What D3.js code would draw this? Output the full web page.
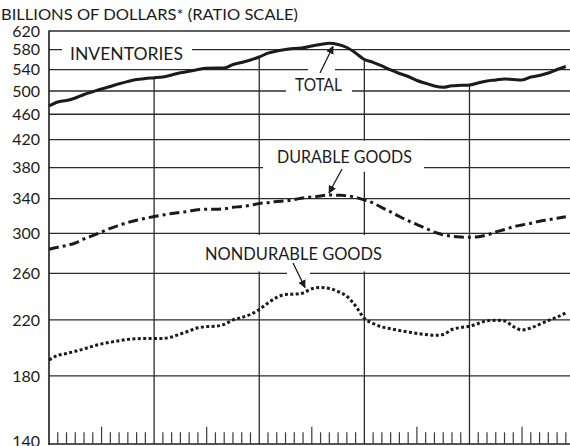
<!DOCTYPE html>
<html><head><meta charset="utf-8">
<script src="https://cdn.jsdelivr.net/npm/d3@7"></script>
<style>html,body{margin:0;padding:0;background:#fff;overflow:hidden}</style>
</head><body><svg id="c" width="570" height="446"></svg>
<script>
// ---- data (monthly, 5 years) ----
const months = d3.range(60);
const total = [473.8,480.6,483.2,487.6,493.8,498.7,503.6,508.2,513.2,517.3,
  521.0,522.9,524.2,525.8,529.5,533.7,536.6,540.1,542.4,542.9,
  542.9,549.8,553.8,558.8,564.8,572.6,577.1,580.2,582.3,584.0,
  587.5,590.7,593.3,590.7,584.4,573.0,559.8,554.2,546.9,539.1,
  532.4,526.7,519.2,514.0,509.0,506.7,509.6,510.3,510.9,514.6,
  518.2,520.1,522.0,521.0,520.1,525.8,528.6,533.3,540.1,545.9];
const durable = [283.5,285.6,287.3,289.9,294.1,297.7,301.6,305.6,308.9,312.0,
  314.6,316.7,318.7,320.5,322.2,323.5,324.8,326.7,327.1,327.1,
  327.7,329.5,330.4,331.9,334.1,335.0,336.5,337.1,338.8,340.7,
  341.9,343.1,344.4,344.0,343.5,341.5,338.2,334.6,329.2,324.2,
  318.8,314.0,309.7,305.6,301.4,298.6,297.0,296.2,295.9,296.5,
  298.4,301.6,304.3,307.3,309.3,311.1,313.4,315.1,316.9,318.6];
const nondurable = [190.6,193.7,195.1,196.6,198.3,200.3,201.9,203.1,204.2,205.2,
  205.7,205.9,205.9,205.9,207.0,209.2,211.5,213.9,214.8,215.1,
  216.5,220.0,222.0,224.4,228.4,233.8,238.5,241.1,241.3,242.3,
  246.1,247.1,246.3,243.6,239.5,231.3,221.2,217.2,214.5,213.2,
  211.8,210.7,209.6,208.8,208.2,208.8,212.6,214.1,215.1,217.2,
  219.4,219.7,219.2,214.9,212.2,213.8,216.6,219.5,222.3,225.6];
const yTicks = [140,180,220,260,300,340,380,420,460,500,540,580,620];
const yearStarts = [12,24,36,48];
const titleText = "BILLIONS OF DOLLARS* (RATIO SCALE)";
const labelTexts = ["INVENTORIES","TOTAL","DURABLE GOODS","NONDURABLE GOODS"];

// ---- drawing ----
const W = 570, H = 446;
const svg = d3.select("#c");
const FONT = "Lato, 'DejaVu Sans', sans-serif";
const INK = "#1b1b1b", GRID = "#2b2b2b";

const x = d3.scaleLinear().domain([0,60]).range([49, 574.6]);
const y = d3.scaleLog().domain([140,620]).range([446,31]);
const baseY = 444;

// horizontal grid lines
svg.append("g").selectAll("line").data(yTicks.filter(d=>d>140)).join("line")
  .attr("x1", x(0)).attr("x2", W)
  .attr("y1", d=>y(d)).attr("y2", d=>y(d))
  .attr("stroke", GRID).attr("stroke-width", 1.3);

// vertical year lines (from baseline up to the total curve)
svg.append("g").selectAll("line").data(yearStarts).join("line")
  .attr("x1", d=>x(d)).attr("x2", d=>x(d))
  .attr("y1", baseY).attr("y2", d=>y(total[d]))
  .attr("stroke", GRID).attr("stroke-width", 1.3);

// white knock-outs behind labels and arrows
const knock = [
  [62,41,130,21],   // INVENTORIES
  [286,74,66,20],   // TOTAL
  [308,64,27,9],    // total arrow gap
  [263,140.8,161,31], // DURABLE GOODS
  [200,235,192,36.5], // NONDURABLE GOODS
  [287,269,23,8]    // nondurable arrow gap
];
svg.append("g").selectAll("rect").data(knock).join("rect")
  .attr("x", d=>d[0]).attr("y", d=>d[1]).attr("width", d=>d[2]).attr("height", d=>d[3])
  .attr("fill", "#fff");

// left axis and baseline
svg.append("line").attr("x1", x(0)).attr("x2", x(0)).attr("y1", 30.4).attr("y2", baseY+1)
  .attr("stroke", INK).attr("stroke-width", 1.6);
svg.append("line").attr("x1", x(0)).attr("x2", W).attr("y1", baseY).attr("y2", baseY)
  .attr("stroke", INK).attr("stroke-width", 1.6);

// monthly ticks
svg.append("g").selectAll("line").data(months.filter(m=>m>0 && m%12!==0)).join("line")
  .attr("x1", d=>x(d)).attr("x2", d=>x(d))
  .attr("y1", baseY).attr("y2", d=> d%12===6 ? baseY-17.3 : baseY-11.7)
  .attr("stroke", "#3a3a3a").attr("stroke-width", 1.2);

// y tick labels
svg.append("g").selectAll("text").data(yTicks).join("text")
  .attr("x", 40).attr("y", d=>Math.min(y(d), 441)).attr("dy", "0.36em")
  .attr("text-anchor", "end").attr("font-family", FONT).attr("font-size", 16)
  .attr("fill", INK).text(d=>d);

// title
svg.append("text").attr("x", 1).attr("y", 19.5).attr("font-family", FONT)
  .attr("font-size", 15).attr("fill", INK)
  .attr("textLength", 297).attr("lengthAdjust", "spacingAndGlyphs").text(titleText);

// series lines
const line = d3.line().x((d,i)=>x(i)).y(d=>y(d)).curve(d3.curveMonotoneX);
svg.append("path").datum(total).attr("d", line).attr("fill","none")
  .attr("stroke", INK).attr("stroke-width", 3).attr("stroke-linejoin","round");
svg.append("path").datum(durable).attr("d", line).attr("fill","none")
  .attr("stroke", INK).attr("stroke-width", 3).attr("stroke-dasharray","10,4,3,4");
svg.append("path").datum(nondurable).attr("d", line).attr("fill","none")
  .attr("stroke", INK).attr("stroke-width", 3).attr("stroke-dasharray","3,2.4");

// labels
const labelPos = [[70,59.5,113],[295,90.7,47],[277,162.5,135],[205,260,177]];
svg.append("g").selectAll("text").data(labelTexts).join("text")
  .attr("x", (d,i)=>labelPos[i][0]).attr("y", (d,i)=>labelPos[i][1])
  .attr("textLength", (d,i)=>labelPos[i][2]).attr("lengthAdjust","spacingAndGlyphs")
  .attr("font-family", FONT).attr("font-size", 16.5).attr("fill", INK).text(d=>d);

// arrows
svg.append("defs").append("marker").attr("id","ah").attr("viewBox","0 0 10 10")
  .attr("refX", 9).attr("refY", 5).attr("markerWidth", 8).attr("markerHeight", 8)
  .attr("markerUnits","userSpaceOnUse").attr("orient","auto")
  .append("path").attr("d","M0,0 L10,5 L0,10 Z").attr("fill", INK);
const arrows = [[320,73,333,46.5],[342,169,329,193],[293,263,305,287.5]];
svg.append("g").selectAll("line").data(arrows).join("line")
  .attr("x1", d=>d[0]).attr("y1", d=>d[1]).attr("x2", d=>d[2]).attr("y2", d=>d[3])
  .attr("stroke", INK).attr("stroke-width", 1.3).attr("marker-end","url(#ah)");
</script></body></html>
